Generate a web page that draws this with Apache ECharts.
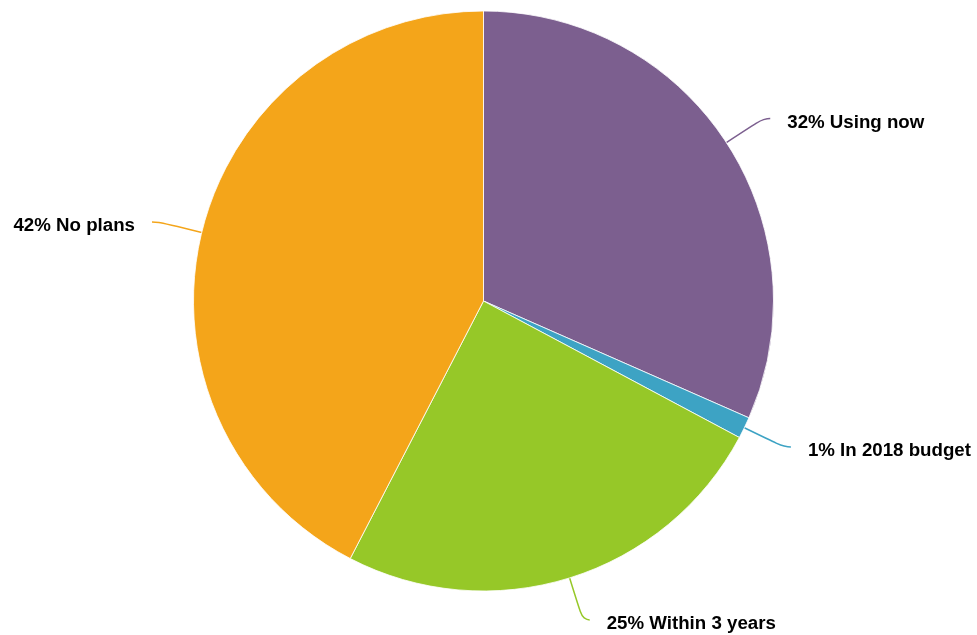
<!DOCTYPE html>
<html>
<head>
<meta charset="utf-8">
<script src="https://cdn.jsdelivr.net/npm/echarts@6/dist/echarts.min.js"></script>
<style>html,body{margin:0;padding:0;background:#fff;}#c{width:977px;height:635px;}</style>
</head>
<body>
<div id="c"></div>
<script>
const categories = ['Using now', 'In 2018 budget', 'Within 3 years', 'No plans'];
const values = [31.6, 1.2, 24.8, 42.4];
const colors = ['#7c5f8f', '#3da3c4', '#96c828', '#f4a51a'];

const chart = echarts.init(document.getElementById('c'), null, {renderer: 'canvas'});
chart.setOption({
  animation: false,
  color: colors,
  series: [{
    type: 'pie',
    center: [483.5, 301],
    radius: [0, 290],
    startAngle: 90,
    clockwise: true,
    avoidLabelOverlap: false,
    data: categories.map((c, i) => ({name: c, value: values[i]})),
    itemStyle: {borderColor: '#fff', borderWidth: 0.8},
    label: {
      show: true,
      formatter: p => Math.round(p.value) + '% ' + p.name,
      fontFamily: 'Liberation Sans, Arial, sans-serif',
      fontWeight: 'bold',
      fontSize: 18.7,
      color: '#000',
      distanceToLabelLine: 17
    },
    labelLayout: {dy: 4},
    labelLine: {
      show: true,
      length: 44,
      length2: 7,
      smooth: 0.6,
      lineStyle: {width: 1.5}
    },
    emphasis: {disabled: true}
  }]
});
</script>
</body>
</html>
